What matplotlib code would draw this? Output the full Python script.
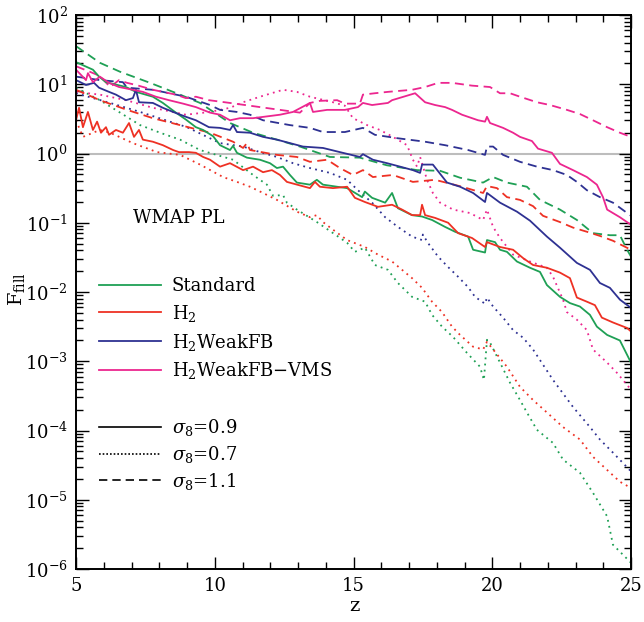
# F_fill versus redshift for four models and three sigma_8 values
import numpy as np
import matplotlib.pyplot as plt
from matplotlib.lines import Line2D
from matplotlib.ticker import LogLocator, FixedLocator

plt.rcParams['font.family'] = ['DejaVu Serif']
plt.rcParams['mathtext.fontset'] = 'dejavuserif'

# colours of the four models
c_std = '#1fa055'
c_h2 = '#ee3124'
c_wfb = '#2e3192'
c_vms = '#ec268f'

# ---- Standard ----
std_09_z = [5.00, 5.61, 5.83, 6.08, 6.80, 7.16, 7.77, 8.13, 8.60, 8.96, 9.32, 9.58, 9.94, 10.19, 10.55,
            10.66, 10.80, 11.16, 11.63, 11.99, 12.24, 12.46, 12.71, 12.96, 13.43, 13.68, 13.90, 14.41,
            14.77, 15.31, 15.41, 15.67, 16.14, 16.39, 16.60, 17.11, 17.47, 17.83, 18.30, 18.66, 19.13,
            19.31, 19.74, 19.81, 20.10, 20.28, 20.53, 20.89, 21.36, 21.72, 21.97, 22.44, 22.80, 23.16,
            23.52, 23.77, 24.14, 24.60, 25.00]
std_09_lf = [1.32, 1.21, 1.11, 1.03, 0.96, 0.89, 0.82, 0.73, 0.59, 0.49, 0.38, 0.34, 0.25, 0.12, 0.05,
             0.11, 0.01, -0.06, -0.09, -0.14, -0.21, -0.19, -0.31, -0.42, -0.45, -0.38, -0.45, -0.48,
             -0.50, -0.63, -0.55, -0.64, -0.71, -0.57, -0.79, -0.89, -0.91, -0.96, -1.06, -1.13, -1.20,
             -1.39, -1.43, -1.25, -1.28, -1.39, -1.42, -1.56, -1.65, -1.71, -1.90, -2.07, -2.16, -2.21,
             -2.33, -2.50, -2.62, -2.70, -3.02]

std_07_z = [5.00, 5.86, 6.59, 7.31, 8.03, 8.75, 9.47, 10.66, 11.38, 11.88, 12.10, 12.46, 12.60, 12.96,
            13.68, 14.41, 14.77, 15.05, 15.41, 15.77, 16.24, 16.60, 17.11, 17.58, 17.83, 18.19, 18.59,
            19.09, 19.56, 19.70, 19.81, 19.92, 20.28, 20.64, 21.00, 21.25, 21.61, 22.19, 22.55, 23.16,
            23.63, 24.14, 24.35, 25.00]
std_07_lf = [0.95, 0.77, 0.59, 0.41, 0.30, 0.20, 0.05, -0.09, -0.31, -0.45, -0.61, -0.60, -0.71, -0.81,
             -0.99, -1.19, -1.29, -1.42, -1.36, -1.61, -1.68, -1.87, -2.07, -2.14, -2.33, -2.50, -2.65,
             -2.88, -3.08, -3.27, -2.69, -2.73, -3.02, -3.31, -3.56, -3.74, -3.99, -4.18, -4.42, -4.61,
             -4.90, -5.24, -5.65, -5.91]

std_11_z = [5.00, 5.86, 6.59, 7.67, 8.75, 9.47, 10.55, 11.38, 12.24, 13.07, 14.15, 15.23, 16.20, 17.29,
            18.12, 18.84, 19.67, 20.03, 20.53, 21.25, 21.72, 22.44, 23.05, 23.63, 24.24, 24.60, 24.86, 25.00]
std_11_lf = [1.55, 1.31, 1.18, 1.02, 0.85, 0.73, 0.44, 0.30, 0.20, 0.10, -0.05, -0.06, -0.17, -0.24,
             -0.25, -0.35, -0.42, -0.34, -0.42, -0.48, -0.67, -0.81, -0.96, -1.15, -1.18, -1.18, -1.39, -1.49]

# ---- H2 ----
h2_09_z = [5.00, 5.11, 5.25, 5.43, 5.61, 5.76, 5.90, 6.08, 6.19, 6.44, 6.69, 6.91, 7.09, 7.27, 7.41,
           7.77, 8.13, 8.50, 8.71, 9.07, 9.32, 9.58, 9.83, 10.19, 10.55, 11.02, 11.38, 11.74, 12.06,
           12.35, 12.60, 13.43, 13.61, 13.79, 14.26, 14.77, 15.05, 15.41, 15.88, 16.39, 16.75, 17.11,
           17.40, 17.47, 17.58, 17.94, 18.41, 18.77, 19.27, 19.74, 19.81, 20.28, 20.75, 21.11, 21.47,
           21.97, 22.44, 22.80, 23.05, 23.41, 23.70, 23.95, 24.35, 24.86, 25.00]
h2_09_lf = [0.48, 0.66, 0.38, 0.60, 0.34, 0.46, 0.30, 0.38, 0.27, 0.34, 0.30, 0.44, 0.24, 0.34, 0.20,
            0.17, 0.12, 0.05, 0.02, 0.02, 0.01, -0.05, -0.09, -0.19, -0.14, -0.24, -0.19, -0.27, -0.24,
            -0.31, -0.41, -0.50, -0.41, -0.48, -0.50, -0.48, -0.64, -0.70, -0.77, -0.74, -0.81, -0.89,
            -0.89, -0.74, -0.89, -0.93, -1.00, -1.15, -1.22, -1.35, -1.28, -1.35, -1.39, -1.51, -1.61,
            -1.65, -1.72, -1.80, -2.08, -2.14, -2.19, -2.37, -2.44, -2.52, -2.57]

h2_07_z = [5.00, 5.25, 5.86, 6.23, 7.05, 7.92, 8.75, 9.47, 10.30, 10.80, 11.27, 11.74, 12.24, 12.96,
           13.43, 13.68, 13.90, 14.26, 14.77, 15.41, 15.88, 16.39, 16.75, 17.11, 17.47, 17.83, 18.19,
           18.55, 18.84, 19.31, 19.67, 19.81, 20.03, 20.53, 21.00, 21.47, 21.97, 22.55, 23.16, 23.63,
           24.14, 24.60, 25.00]
h2_07_lf = [0.48, 0.24, 0.34, 0.30, 0.15, 0.02, -0.02, -0.16, -0.34, -0.41, -0.48, -0.57, -0.67, -0.84,
            -0.92, -0.89, -0.99, -1.10, -1.25, -1.35, -1.46, -1.56, -1.68, -1.80, -1.94, -2.14, -2.29,
            -2.50, -2.62, -2.79, -2.83, -2.72, -2.83, -3.08, -3.37, -3.56, -3.74, -3.95, -4.13, -4.38,
            -4.57, -4.74, -4.83]

h2_11_z = [5.00, 5.86, 6.84, 7.77, 8.75, 9.83, 10.66, 11.02, 11.16, 11.27, 12.24, 12.96, 13.43, 14.05,
           14.51, 14.98, 15.34, 15.70, 16.42, 17.14, 17.94, 18.91, 19.67, 19.81, 20.17, 20.53, 21.00,
           21.47, 21.83, 22.44, 22.91, 23.41, 23.88, 24.35, 25.00]
h2_11_lf = [0.92, 0.77, 0.63, 0.51, 0.41, 0.30, 0.17, 0.08, 0.15, 0.05, -0.02, -0.05, -0.12, -0.09,
            -0.21, -0.31, -0.24, -0.34, -0.31, -0.41, -0.38, -0.48, -0.57, -0.47, -0.50, -0.63, -0.67,
            -0.76, -0.90, -0.99, -1.07, -1.13, -1.19, -1.26, -1.39]

# ---- H2WeakFB ----
wfb_09_z = [5.00, 5.36, 5.65, 5.83, 6.19, 6.44, 6.80, 7.05, 7.16, 7.27, 7.77, 8.13, 8.50, 8.96, 9.32,
            9.79, 10.19, 10.55, 10.66, 10.80, 11.27, 11.74, 12.24, 12.71, 13.18, 13.90, 14.51, 15.23,
            15.34, 15.70, 16.21, 16.68, 17.14, 17.40, 17.47, 17.86, 18.37, 18.84, 19.31, 19.74, 19.81,
            20.28, 20.89, 21.36, 21.97, 22.44, 23.05, 23.52, 23.88, 24.24, 24.60, 25.00]
wfb_09_lf = [1.06, 0.99, 1.02, 0.95, 0.89, 0.85, 0.77, 0.80, 0.92, 0.74, 0.73, 0.66, 0.60, 0.53, 0.48,
             0.38, 0.37, 0.34, 0.41, 0.31, 0.30, 0.24, 0.20, 0.15, 0.10, 0.08, 0.02, -0.05,
             -0.01, -0.09, -0.14, -0.19, -0.24, -0.28, -0.16, -0.16, -0.42, -0.48, -0.57, -0.70, -0.57,
             -0.71, -0.84, -0.97, -1.20, -1.36, -1.58, -1.68, -1.87, -1.94, -2.11, -2.23]

wfb_07_z = [5.00, 6.23, 7.31, 9.00, 10.19, 11.02, 11.63, 12.24, 12.82, 13.43, 14.15, 14.77, 15.16, 15.67,
            16.14, 16.60, 17.11, 17.47, 17.50, 17.68, 18.05, 18.41, 18.77, 19.13, 19.38, 19.74, 19.81,
            20.03, 20.39, 20.75, 21.11, 21.47, 22.19, 22.91, 23.52, 23.88, 24.35, 25.00]
wfb_07_lf = [0.87, 0.73, 0.60, 0.38, 0.15, 0.10, 0.02, -0.05, -0.14, -0.21, -0.28, -0.38, -0.53, -0.71,
             -0.92, -1.06, -1.20, -1.25, -1.17, -1.29, -1.49, -1.64, -1.78, -1.93, -2.07, -2.17, -2.08,
             -2.21, -2.37, -2.55, -2.66, -2.83, -3.27, -3.66, -3.95, -4.13, -4.32, -4.59]

wfb_11_z = [5.00, 5.86, 6.69, 6.84, 7.77, 8.96, 9.83, 10.19, 10.80, 11.27, 11.74, 12.71, 13.43, 13.90,
            14.69, 15.34, 15.77, 16.60, 17.58, 18.30, 19.13, 19.74, 19.81, 20.03, 20.39, 21.00, 21.61,
            22.19, 22.69, 23.05, 23.41, 23.88, 24.35, 25.00]
wfb_11_lf = [1.11, 1.06, 1.03, 0.95, 0.92, 0.82, 0.70, 0.63, 0.60, 0.56, 0.48, 0.41, 0.37, 0.31,
             0.31, 0.37, 0.27, 0.22, 0.17, 0.12, 0.05, -0.02, 0.10, 0.10, -0.02, -0.12, -0.19,
             -0.24, -0.31, -0.41, -0.53, -0.63, -0.71, -0.90]

# ---- H2WeakFB-VMS ----
vms_09_z = [5.00, 5.36, 5.43, 5.61, 5.86, 6.19, 6.55, 7.05, 7.41, 7.88, 8.35, 8.86, 9.32, 9.83, 10.19,
            10.55, 10.91, 11.38, 12.35, 12.82, 13.43, 13.54, 14.05, 14.69, 15.16, 15.34, 15.67, 16.24,
            16.39, 17.22, 17.58, 17.94, 18.30, 18.55, 18.91, 19.49, 19.74, 19.81, 19.92, 20.39, 20.75,
            21.00, 21.43, 21.65, 22.15, 22.44, 22.91, 23.41, 23.77, 23.99, 24.14, 24.60, 25.00]
vms_09_lf = [1.21, 1.06, 1.16, 1.03, 1.11, 1.02, 0.96, 0.92, 0.89, 0.82, 0.77, 0.72, 0.67, 0.59, 0.56,
             0.48, 0.51, 0.51, 0.56, 0.60, 0.73, 0.60, 0.63, 0.63, 0.67, 0.73, 0.70, 0.73,
             0.77, 0.87, 0.74, 0.70, 0.67, 0.63, 0.56, 0.48, 0.46, 0.53, 0.44, 0.37, 0.30,
             0.24, 0.18, 0.07, 0.01, -0.15, -0.24, -0.34, -0.45, -0.63, -0.81, -0.92, -1.03]

vms_07_z = [5.00, 5.86, 6.80, 7.77, 8.96, 9.83, 10.55, 11.02, 11.63, 12.46, 12.96, 13.43, 14.26, 14.69,
            14.98, 15.49, 15.95, 16.42, 16.93, 17.14, 17.29, 17.40, 17.65, 17.86, 18.12, 18.59, 19.20,
            19.67, 19.81, 20.03, 20.28, 20.75, 21.36, 21.97, 22.19, 22.55, 22.69, 23.05, 23.41, 23.63,
            24.14, 24.50, 25.00]
vms_07_lf = [0.89, 0.85, 0.77, 0.66, 0.56, 0.60, 0.66, 0.74, 0.82, 0.92, 0.89, 0.82, 0.74, 0.69,
             0.51, 0.41, 0.34, 0.24, 0.12, -0.09, -0.19, -0.05, -0.38, -0.57, -0.71, -0.81, -0.86,
             -0.96, -0.81, -1.06, -1.22, -1.46, -1.56, -1.65, -1.78, -2.11, -2.29, -2.40, -2.55, -2.83,
             -3.02, -3.17, -3.41]

vms_11_z = [5.00, 5.50, 5.86, 6.23, 6.55, 6.84, 7.16, 7.77, 8.60, 8.96, 9.32, 9.79, 10.55, 11.63, 12.35,
            13.07, 13.43, 13.79, 14.41, 14.69, 15.23, 15.34, 15.77, 16.24, 17.11, 17.58, 18.05, 18.55,
            19.27, 19.92, 20.28, 20.64, 21.00, 21.61, 22.08, 22.69, 23.16, 23.63, 24.14, 24.60, 25.00]
vms_11_lf = [1.26, 1.18, 1.12, 0.96, 1.06, 1.02, 0.99, 0.92, 0.85, 0.80, 0.82, 0.77, 0.73, 0.67, 0.63,
             0.59, 0.73, 0.76, 0.77, 0.72, 0.72, 0.85, 0.87, 0.89, 0.92, 0.96, 1.02, 1.02,
             0.98, 0.96, 0.87, 0.87, 0.82, 0.74, 0.70, 0.63, 0.57, 0.48, 0.38, 0.30, 0.24]

model_names = ['Standard', r'H$_2$', r'H$_2$WeakFB', r'H$_2$WeakFB$-$VMS']
model_colors = [c_std, c_h2, c_wfb, c_vms]
sigma_labels = [r'$\sigma_8$=0.9', r'$\sigma_8$=0.7', r'$\sigma_8$=1.1']

lw = 1.3
ls_solid = '-'
ls_dot = (0, (1, 2.4))
ls_dash = (0, (5, 3))

fig = plt.figure(figsize=(6.44, 6.22), dpi=100)
ax = fig.add_axes([76/644, 1-569/622, 555/644, 554/622])

ax.axhline(1.0, color='#bdbdbd', lw=1.5, zorder=1)

curves = [
    (std_07_z, std_07_lf, c_std, ls_dot), (h2_07_z, h2_07_lf, c_h2, ls_dot),
    (wfb_07_z, wfb_07_lf, c_wfb, ls_dot), (vms_07_z, vms_07_lf, c_vms, ls_dot),
    (std_11_z, std_11_lf, c_std, ls_dash), (h2_11_z, h2_11_lf, c_h2, ls_dash),
    (wfb_11_z, wfb_11_lf, c_wfb, ls_dash), (vms_11_z, vms_11_lf, c_vms, ls_dash),
    (std_09_z, std_09_lf, c_std, ls_solid), (h2_09_z, h2_09_lf, c_h2, ls_solid),
    (wfb_09_z, wfb_09_lf, c_wfb, ls_solid), (vms_09_z, vms_09_lf, c_vms, ls_solid),
]
for zz, lf, col, ls in curves:
    ax.plot(zz, 10**np.array(lf), color=col, ls=ls, lw=lw, zorder=2)

ax.set_yscale('log')
ax.set_xlim(5, 25)
ax.set_ylim(1e-6, 1e2)

ax.xaxis.set_major_locator(FixedLocator([5, 10, 15, 20, 25]))
ax.xaxis.set_minor_locator(FixedLocator(np.arange(5, 26, 1)))
ax.yaxis.set_major_locator(LogLocator(base=10, numticks=20))
ax.yaxis.set_minor_locator(LogLocator(base=10, subs=np.arange(2, 10), numticks=20))

ax.tick_params(which='both', direction='in', top=True, right=True, width=1.0, labelsize=13)
ax.tick_params(which='major', length=9)
ax.tick_params(which='minor', length=5)
ax.tick_params(axis='x', which='major', pad=6)
ax.tick_params(axis='y', which='major', pad=6)
for sp in ax.spines.values():
    sp.set_linewidth(1.4)

fig.text(0.55, 0.026, 'z', fontsize=14, ha='center', va='center')
fig.text(0.026, 0.535, r'F$_{\rm fill}$', fontsize=14, rotation=90, ha='center', va='center')

ax.text(0.103, 0.634, 'WMAP PL', transform=ax.transAxes, fontsize=13, va='center', ha='left')

h1 = [Line2D([], [], color=c, lw=lw) for c in model_colors]
leg1 = ax.legend(h1, model_names, loc='upper left', bbox_to_anchor=(0.042, 0.527),
                 frameon=False, fontsize=13, handlelength=3.4, handletextpad=0.6,
                 labelspacing=0.43, borderpad=0, borderaxespad=0)
ax.add_artist(leg1)
h2 = [Line2D([], [], color='k', lw=1.2, ls=s) for s in (ls_solid, (0, (1, 1.2)), ls_dash)]
ax.legend(h2, sigma_labels, loc='upper left', bbox_to_anchor=(0.042, 0.274),
          frameon=False, fontsize=13, handlelength=3.4, handletextpad=0.6,
          labelspacing=0.32, borderpad=0, borderaxespad=0)

plt.savefig('out.png', dpi=100)
